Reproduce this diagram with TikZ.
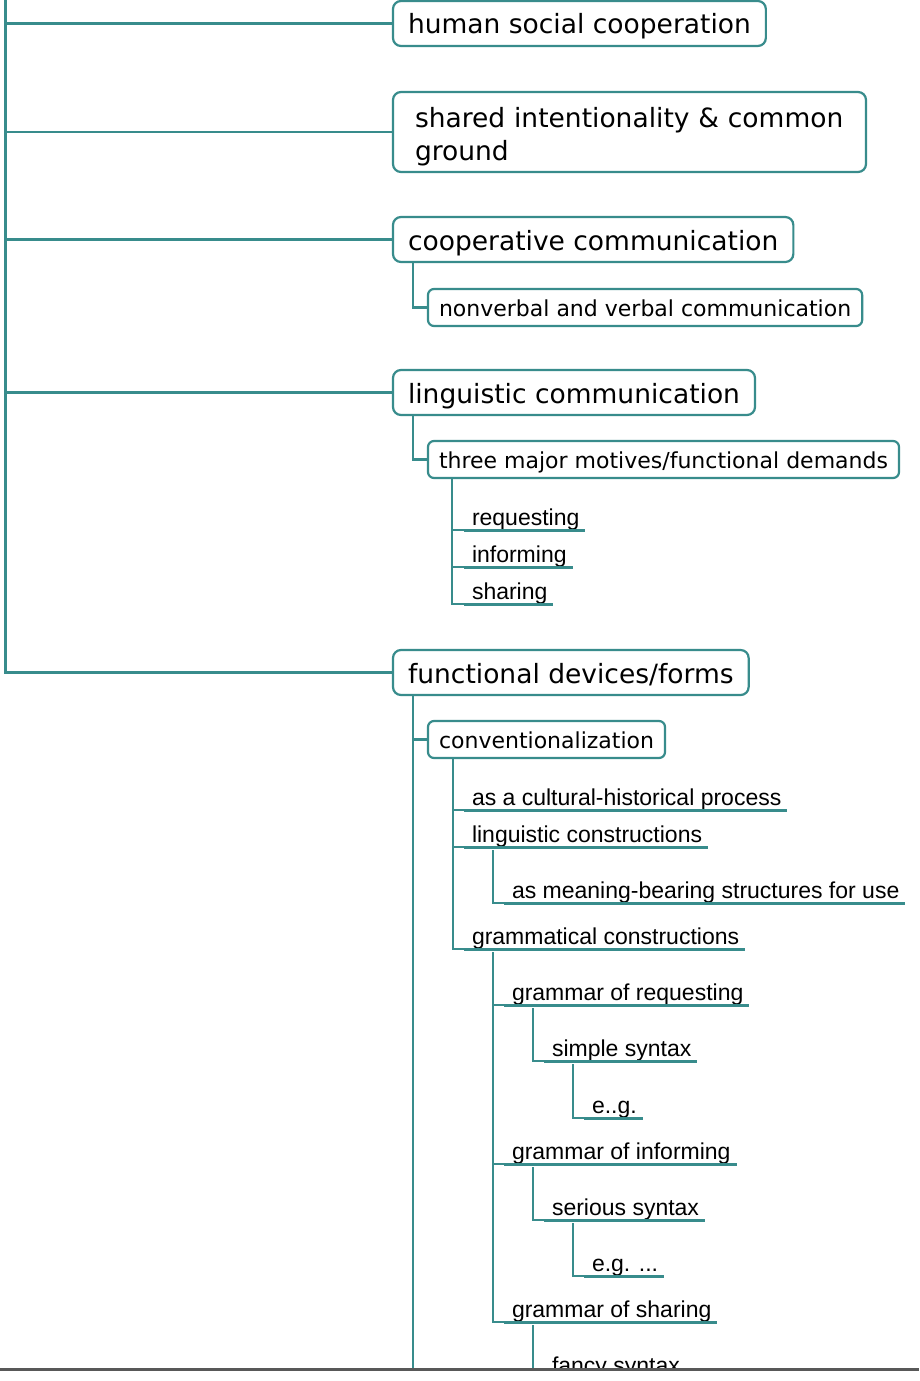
\documentclass[tikz,border=0pt]{standalone}
\usepackage{fontspec}
\newfontfamily\boxfont{DejaVu Sans}
\newfontfamily\leaffont{Liberation Sans}
\definecolor{mapline}{RGB}{56,140,140}
\definecolor{cutbar}{RGB}{88,88,88}
\begin{document}
\begin{tikzpicture}[x=1pt,y=-1pt,
  topic/.style={draw=mapline, line width=2.2pt, rounded corners=8pt, fill=white,
    anchor=north west, font=\fontsize{26.5}{33}\selectfont\boxfont,
    inner xsep=15pt, inner ysep=11pt, text height=22pt, text depth=1pt, outer sep=0pt},
  subtopic/.style={topic, rounded corners=6pt, font=\fontsize{22}{26}\selectfont\boxfont,
    inner xsep=11pt, inner ysep=9pt, text height=18pt, text depth=1pt},
  leaf/.style={anchor=base west, font=\fontsize{23}{27}\selectfont\leaffont,
    inner sep=0pt, text depth=5pt, outer sep=0pt},
  conn/.style={draw=mapline, line width=2.4pt},
  uline/.style={draw=mapline, line width=3pt}]
\useasboundingbox (0,0) rectangle (919,1381);
\fill[white] (0,0) rectangle (919,1381);

\begin{scope}
\clip (0,0) rectangle (919,1368);

% main topics
\node[topic] (b1) at (393,1) {human social cooperation};
\node[topic, text width=429pt, align=left, inner xsep=22pt, text height=24pt, text depth=34pt]
  (b2) at (393,92) {shared intentionality \& common\\ground};
\node[topic] (b3) at (393,217) {cooperative communication};
\node[topic] (b4) at (393,370) {linguistic communication};
\node[topic] (b5) at (393,650) {functional devices/forms};

% subtopics
\node[subtopic] (nv) at (428,289) {nonverbal and verbal communication};
\node[subtopic] (three) at (428,441) {three major motives/functional demands};
\node[subtopic] (conv) at (428,721) {conventionalization};

% leaves
\node[leaf] (req) at (472,525) {requesting};
\node[leaf] (inf) at (472,562) {informing};
\node[leaf] (sha) at (472,599) {sharing};
\node[leaf] (cult) at (472,805) {as a cultural-historical process};
\node[leaf] (lcons) at (472,842) {linguistic constructions};
\node[leaf] (mean) at (512,898) {as meaning-bearing structures for use};
\node[leaf] (gcons) at (472,944) {grammatical constructions};
\node[leaf] (greq) at (512,1000) {grammar of requesting};
\node[leaf] (simp) at (552,1056) {simple syntax};
\node[leaf] (eg1) at (592,1113) {e..g.};
\node[leaf] (ginf) at (512,1159) {grammar of informing};
\node[leaf] (seri) at (552,1215) {serious syntax};
\node[leaf] (eg2) at (592,1271) {e.g. ...};
\node[leaf] (gsha) at (512,1317) {grammar of sharing};
\node[leaf] (fancy) at (552,1373) {fancy syntax};

% root trunk and branches
\coordinate (rtop) at (5.5,-2);
\draw[conn, line width=2.8pt] (rtop) |- (b5.west);
\foreach \t in {b1,b2,b3,b4}
  \draw[conn] (\t.west -| rtop) -- (\t.west);

% topic to subtopic
\draw[conn] ([xshift=20pt]b3.south west) |- (nv.west);
\draw[conn] ([xshift=20pt]b4.south west) |- (three.west);
\draw[conn] ([xshift=20pt]b5.south west) |- (conv.west);
\draw[conn] ([xshift=20pt]b5.south west) -- ++(0,720);

% subtopic to leaves
\foreach \l in {req,inf,sha}
  \draw[conn] ([xshift=24pt]three.south west) |- ([xshift=-8pt]\l.south west);
\foreach \l in {cult,lcons,gcons}
  \draw[conn] ([xshift=25pt]conv.south west) |- ([xshift=-8pt]\l.south west);

% leaf to leaf
\draw[conn] ([xshift=21pt,yshift=-3pt]lcons.south west) |- ([xshift=-8pt]mean.south west);
\foreach \l in {greq,ginf,gsha}
  \draw[conn] ([xshift=21pt,yshift=-3pt]gcons.south west) |- ([xshift=-8pt]\l.south west);
\draw[conn] ([xshift=21pt,yshift=-3pt]greq.south west) |- ([xshift=-8pt]simp.south west);
\draw[conn] ([xshift=21pt,yshift=-3pt]simp.south west) |- ([xshift=-8pt]eg1.south west);
\draw[conn] ([xshift=21pt,yshift=-3pt]ginf.south west) |- ([xshift=-8pt]seri.south west);
\draw[conn] ([xshift=21pt,yshift=-3pt]seri.south west) |- ([xshift=-8pt]eg2.south west);
\draw[conn] ([xshift=21pt,yshift=-3pt]gsha.south west) |- ([xshift=-8pt]fancy.south west);

% underlines of the leaves
\foreach \l in {req,inf,sha,cult,lcons,mean,gcons,greq,simp,eg1,ginf,seri,eg2,gsha,fancy}
  \draw[uline] ([xshift=-8pt]\l.south west) -- ([xshift=6pt]\l.south east);
\end{scope}

% lower edge of the view
\draw[cutbar, line width=3pt] (0,1369) -- (919,1369);
\end{tikzpicture}
\end{document}
